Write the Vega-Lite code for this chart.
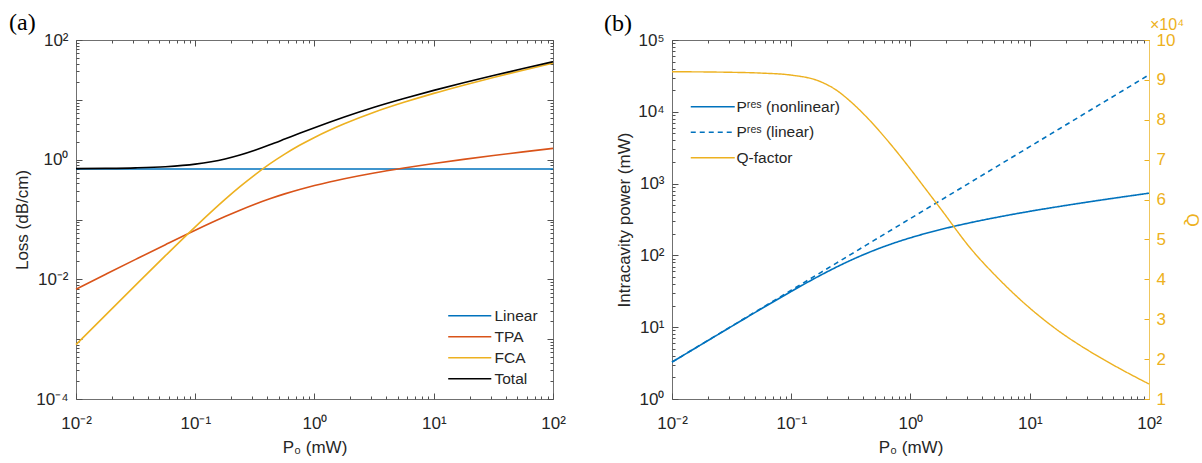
{
  "$schema": "https://vega.github.io/schema/vega-lite/v6.json",
  "background": "white",
  "padding": {"left": 8, "top": 10, "right": 2, "bottom": 2},
  "bounds": "flush",
  "spacing": 119,
  "resolve": {"scale": {"color": "independent", "strokeDash": "independent"}, "legend": {"color": "independent", "strokeDash": "independent"}},
  "config": {
    "font": "Liberation Sans",
    "view": {"stroke": "#707070", "strokeWidth": 1},
    "axis": {"domain": false, "grid": false, "labelFont": "Liberation Sans", "labelFontSize": 17, "labelColor": "#262626", "titleFont": "Liberation Sans", "titleFontSize": 17, "titleFontWeight": "normal", "titleColor": "#262626", "tickColor": "#505050", "labelOverlap": false, "labelFlush": false, "labelBound": false},
    "legend": {"labelFont": "Liberation Sans", "labelFontSize": 15.5, "labelColor": "#262626", "title": null, "padding": 0},
    "title": {"font": "Liberation Serif", "fontSize": 24, "fontWeight": "normal", "color": "#000000", "anchor": "start", "frame": "group"}
  },
  "datasets": {
    "loss": [
      {"P0": 0.01, "Linear": 0.7, "TPA": 0.00685, "FCA": 0.000809, "Total": 0.7077},
      {"P0": 0.01778, "Linear": 0.7, "TPA": 0.01216, "FCA": 0.00255, "Total": 0.7147},
      {"P0": 0.03162, "Linear": 0.7, "TPA": 0.02154, "FCA": 0.0080, "Total": 0.7295},
      {"P0": 0.05623, "Linear": 0.7, "TPA": 0.03797, "FCA": 0.02484, "Total": 0.7628},
      {"P0": 0.1, "Linear": 0.7, "TPA": 0.0662, "FCA": 0.0754, "Total": 0.8416},
      {"P0": 0.1778, "Linear": 0.7, "TPA": 0.1121, "FCA": 0.2165, "Total": 1.0286},
      {"P0": 0.2371, "Linear": 0.7, "TPA": 0.1432, "FCA": 0.3535, "Total": 1.1967},
      {"P0": 0.3162, "Linear": 0.7, "TPA": 0.180, "FCA": 0.558, "Total": 1.438},
      {"P0": 0.4217, "Linear": 0.7, "TPA": 0.222, "FCA": 0.848, "Total": 1.770},
      {"P0": 0.5623, "Linear": 0.7, "TPA": 0.268, "FCA": 1.237, "Total": 2.205},
      {"P0": 0.7499, "Linear": 0.7, "TPA": 0.3175, "FCA": 1.7375, "Total": 2.755},
      {"P0": 1, "Linear": 0.7, "TPA": 0.370, "FCA": 2.354, "Total": 3.424},
      {"P0": 1.334, "Linear": 0.7, "TPA": 0.4242, "FCA": 3.101, "Total": 4.225},
      {"P0": 1.778, "Linear": 0.7, "TPA": 0.4805, "FCA": 3.979, "Total": 5.159},
      {"P0": 3.162, "Linear": 0.7, "TPA": 0.600, "FCA": 6.203, "Total": 7.503},
      {"P0": 5.623, "Linear": 0.7, "TPA": 0.7258, "FCA": 9.077, "Total": 10.503},
      {"P0": 10, "Linear": 0.7, "TPA": 0.8627, "FCA": 12.826, "Total": 14.389},
      {"P0": 17.78, "Linear": 0.7, "TPA": 1.010, "FCA": 17.583, "Total": 19.293},
      {"P0": 31.62, "Linear": 0.7, "TPA": 1.171, "FCA": 23.647, "Total": 25.518},
      {"P0": 56.23, "Linear": 0.7, "TPA": 1.348, "FCA": 31.32, "Total": 33.37},
      {"P0": 100, "Linear": 0.7, "TPA": 1.544, "FCA": 41.06, "Total": 43.30}
    ],
    "pow": [
      {"P0": 0.01, "nl": 3.263, "lin": 3.27, "Q": 9.205},
      {"P0": 0.01778, "nl": 5.792, "lin": 5.814, "Q": 9.2},
      {"P0": 0.03162, "nl": 10.26, "lin": 10.34, "Q": 9.19},
      {"P0": 0.05623, "nl": 18.08, "lin": 18.39, "Q": 9.17},
      {"P0": 0.1, "nl": 31.50, "lin": 32.7, "Q": 9.12},
      {"P0": 0.1778, "nl": 53.37, "lin": 58.14, "Q": 8.95},
      {"P0": 0.2371, "nl": 68.2, "lin": 77.53, "Q": 8.75},
      {"P0": 0.3162, "nl": 85.7, "lin": 103.4, "Q": 8.45},
      {"P0": 0.4217, "nl": 105.6, "lin": 137.9, "Q": 8.09},
      {"P0": 0.5623, "nl": 127.6, "lin": 183.9, "Q": 7.68},
      {"P0": 0.7499, "nl": 151.2, "lin": 245.2, "Q": 7.235},
      {"P0": 1, "nl": 176, "lin": 327, "Q": 6.762},
      {"P0": 1.334, "nl": 202, "lin": 436.2, "Q": 6.271},
      {"P0": 1.778, "nl": 228.8, "lin": 581.4, "Q": 5.781},
      {"P0": 3.162, "nl": 285, "lin": 1034, "Q": 4.79},
      {"P0": 5.623, "nl": 345.6, "lin": 1839, "Q": 3.98},
      {"P0": 10, "nl": 410.8, "lin": 3270, "Q": 3.28},
      {"P0": 17.78, "nl": 481, "lin": 5814, "Q": 2.69},
      {"P0": 31.62, "nl": 557.8, "lin": 10340, "Q": 2.2},
      {"P0": 56.23, "nl": 642, "lin": 18387, "Q": 1.77},
      {"P0": 100, "nl": 735, "lin": 32700, "Q": 1.376}
    ]
  },
  "hconcat": [
    {
      "width": 477,
      "height": 359,
      "title": {"text": "(a)", "dx": -67, "offset": -4},
      "data": {"name": "loss"},
      "transform": [{"fold": ["Linear", "TPA", "FCA", "Total"], "as": ["series", "loss"]}],
      "layer": [
        {
          "mark": {"type": "line", "strokeWidth": 1.6, "interpolate": "monotone"},
          "encoding": {
            "x": {"field": "P0", "type": "quantitative", "scale": {"type": "log", "domain": [0.01, 100], "nice": false},
              "axis": {"orient": "bottom", "title": "P₀ (mW)", "titlePadding": 5,
                "values": [0.01,0.02,0.03,0.04,0.05,0.06,0.07,0.08,0.09,0.1,0.2,0.3,0.4,0.5,0.6,0.7,0.8,0.9,1,2,3,4,5,6,7,8,9,10,20,30,40,50,60,70,80,90,100],
                "labelExpr": "datum.value==0.01?'10⁻²':datum.value==0.1?'10⁻¹':datum.value==1?'10⁰':datum.value==10?'10¹':datum.value==100?'10²':''",
                "tickSize": {"condition": {"test": "indexof([0.01,0.1,1,10,100], datum.value) >= 0", "value": -6}, "value": -3},
                "labelPadding": 22}},
            "y": {"field": "loss", "type": "quantitative", "scale": {"type": "log", "domain": [0.0001, 100], "nice": false},
              "axis": {"orient": "left", "title": "Loss (dB/cm)", "titlePadding": 4,
                "values": [0.0001,0.0002,0.0003,0.0004,0.0005,0.0006,0.0007,0.0008,0.0009,0.001,0.002,0.003,0.004,0.005,0.006,0.007,0.008,0.009,0.01,0.02,0.03,0.04,0.05,0.06,0.07,0.08,0.09,0.1,0.2,0.3,0.4,0.5,0.6,0.7,0.8,0.9,1,2,3,4,5,6,7,8,9,10,20,30,40,50,60,70,80,90,100],
                "labelExpr": "datum.value==0.0001?'10⁻⁴':datum.value==0.01?'10⁻²':datum.value==1?'10⁰':datum.value==100?'10²':''",
                "tickSize": {"condition": {"test": "indexof([0.0001,0.001,0.01,0.1,1,10,100], datum.value) >= 0", "value": -6}, "value": -3},
                "labelPadding": 14}},
            "color": {"field": "series", "type": "nominal",
              "scale": {"domain": ["Linear", "TPA", "FCA", "Total"], "range": ["#0072BD", "#D95319", "#EDB120", "#000000"]},
              "legend": {"orient": "none", "legendX": 386, "legendY": 268, "symbolType": "M-4,0H4", "symbolSize": 116, "symbolStrokeWidth": 1.6, "rowPadding": 4, "labelOffset": 17}}
          }
        },
        {
          "mark": {"type": "line", "opacity": 0},
          "encoding": {
            "x": {"field": "P0", "type": "quantitative", "scale": {"type": "log", "domain": [0.01, 100], "nice": false},
              "axis": {"orient": "top", "title": null, "labels": false,
                "values": [0.01,0.02,0.03,0.04,0.05,0.06,0.07,0.08,0.09,0.1,0.2,0.3,0.4,0.5,0.6,0.7,0.8,0.9,1,2,3,4,5,6,7,8,9,10,20,30,40,50,60,70,80,90,100],
                "tickSize": {"condition": {"test": "indexof([0.01,0.1,1,10,100], datum.value) >= 0", "value": -6}, "value": -3}}},
            "y": {"field": "loss", "type": "quantitative", "scale": {"type": "log", "domain": [0.0001, 100], "nice": false},
              "axis": {"orient": "right", "title": null, "labels": false,
                "values": [0.0001,0.0002,0.0003,0.0004,0.0005,0.0006,0.0007,0.0008,0.0009,0.001,0.002,0.003,0.004,0.005,0.006,0.007,0.008,0.009,0.01,0.02,0.03,0.04,0.05,0.06,0.07,0.08,0.09,0.1,0.2,0.3,0.4,0.5,0.6,0.7,0.8,0.9,1,2,3,4,5,6,7,8,9,10,20,30,40,50,60,70,80,90,100],
                "tickSize": {"condition": {"test": "indexof([0.0001,0.001,0.01,0.1,1,10,100], datum.value) >= 0", "value": -6}, "value": -3}}},
            "detail": {"field": "series", "type": "nominal"}
          }
        }
      ],
      "resolve": {"axis": {"x": "independent", "y": "independent"}}
    },
    {
      "width": 477,
      "height": 359,
      "title": {"text": "(b)", "dx": -68, "offset": -19},
      "layer": [
        {
          "data": {"name": "pow"},
          "transform": [{"fold": ["nl", "lin"], "as": ["series", "val"]}],
          "mark": {"type": "line", "strokeWidth": 1.6, "interpolate": "monotone"},
          "encoding": {
            "x": {"field": "P0", "type": "quantitative", "scale": {"type": "log", "domain": [0.01, 100], "nice": false},
              "axis": {"orient": "bottom", "title": "P₀ (mW)", "titlePadding": 5,
                "values": [0.01,0.02,0.03,0.04,0.05,0.06,0.07,0.08,0.09,0.1,0.2,0.3,0.4,0.5,0.6,0.7,0.8,0.9,1,2,3,4,5,6,7,8,9,10,20,30,40,50,60,70,80,90,100],
                "labelExpr": "datum.value==0.01?'10⁻²':datum.value==0.1?'10⁻¹':datum.value==1?'10⁰':datum.value==10?'10¹':datum.value==100?'10²':''",
                "tickSize": {"condition": {"test": "indexof([0.01,0.1,1,10,100], datum.value) >= 0", "value": -6}, "value": -3},
                "labelPadding": 22}},
            "y": {"field": "val", "type": "quantitative", "scale": {"type": "log", "domain": [1, 100000], "nice": false},
              "axis": {"orient": "left", "title": "Intracavity power (mW)", "titlePadding": 4,
                "values": [1,2,3,4,5,6,7,8,9,10,20,30,40,50,60,70,80,90,100,200,300,400,500,600,700,800,900,1000,2000,3000,4000,5000,6000,7000,8000,9000,10000,20000,30000,40000,50000,60000,70000,80000,90000,100000],
                "labelExpr": "datum.value==1?'10⁰':datum.value==10?'10¹':datum.value==100?'10²':datum.value==1000?'10³':datum.value==10000?'10⁴':datum.value==100000?'10⁵':''",
                "tickSize": {"condition": {"test": "indexof([1,10,100,1000,10000,100000], datum.value) >= 0", "value": -6}, "value": -3},
                "labelPadding": 14}},
            "color": {"field": "series", "type": "nominal",
              "scale": {"domain": ["nl", "lin", "Q"], "range": ["#0072BD", "#0072BD", "#EDB120"]},
              "legend": {"orient": "none", "legendX": 33, "legendY": 59, "symbolType": "M-4,0H4", "symbolSize": 121, "symbolStrokeWidth": 1.6, "rowPadding": 8.5, "labelOffset": 16,
                "labelExpr": "datum.label=='nl'?'Pʳᵉˢ (nonlinear)':datum.label=='lin'?'Pʳᵉˢ (linear)':'Q-factor'"}},
            "strokeDash": {"field": "series", "type": "nominal",
              "scale": {"domain": ["nl", "lin", "Q"], "range": [[1, 0], [5, 4], [1, 0]]},
              "legend": {"orient": "none", "legendX": 33, "legendY": 59, "symbolType": "M-4,0H4", "symbolSize": 121, "symbolStrokeWidth": 1.6, "rowPadding": 8.5, "labelOffset": 16,
                "labelExpr": "datum.label=='nl'?'Pʳᵉˢ (nonlinear)':datum.label=='lin'?'Pʳᵉˢ (linear)':'Q-factor'"}}
          }
        },
        {
          "data": {"name": "pow"},
          "transform": [{"fold": ["Q"], "as": ["series", "val"]}],
          "mark": {"type": "line", "strokeWidth": 1.4, "interpolate": "monotone"},
          "encoding": {
            "x": {"field": "P0", "type": "quantitative", "scale": {"type": "log", "domain": [0.01, 100], "nice": false},
              "axis": {"orient": "top", "title": null, "labels": false,
                "values": [0.01,0.02,0.03,0.04,0.05,0.06,0.07,0.08,0.09,0.1,0.2,0.3,0.4,0.5,0.6,0.7,0.8,0.9,1,2,3,4,5,6,7,8,9,10,20,30,40,50,60,70,80,90,100],
                "tickSize": {"condition": {"test": "indexof([0.01,0.1,1,10,100], datum.value) >= 0", "value": -6}, "value": -3}}},
            "y": {"field": "val", "type": "quantitative", "scale": {"domain": [1, 10], "nice": false},
              "axis": {"orient": "right", "title": "Q", "titleColor": "#EDB120", "titlePadding": 8,
                "values": [1,2,3,4,5,6,7,8,9,10], "tickSize": -5, "tickColor": "#EDB120", "labelColor": "#EDB120",
                "domain": true, "domainColor": "#F0C75E", "labelPadding": 12}},
            "color": {"field": "series", "type": "nominal",
              "scale": {"domain": ["nl", "lin", "Q"], "range": ["#0072BD", "#0072BD", "#EDB120"]},
              "legend": {"orient": "none", "legendX": 33, "legendY": 59, "symbolType": "M-4,0H4", "symbolSize": 121, "symbolStrokeWidth": 1.6, "rowPadding": 8.5, "labelOffset": 16,
                "labelExpr": "datum.label=='nl'?'Pʳᵉˢ (nonlinear)':datum.label=='lin'?'Pʳᵉˢ (linear)':'Q-factor'"}},
            "strokeDash": {"field": "series", "type": "nominal",
              "scale": {"domain": ["nl", "lin", "Q"], "range": [[1, 0], [5, 4], [1, 0]]},
              "legend": {"orient": "none", "legendX": 33, "legendY": 59, "symbolType": "M-4,0H4", "symbolSize": 121, "symbolStrokeWidth": 1.6, "rowPadding": 8.5, "labelOffset": 16,
                "labelExpr": "datum.label=='nl'?'Pʳᵉˢ (nonlinear)':datum.label=='lin'?'Pʳᵉˢ (linear)':'Q-factor'"}}
          }
        },
        {
          "data": {"values": [{"t": "×10⁴"}]},
          "mark": {"type": "text", "align": "left", "baseline": "alphabetic", "dx": 1, "dy": -10, "fontSize": 16, "color": "#EDB120", "font": "Liberation Sans"},
          "encoding": {
            "text": {"field": "t"},
            "x": {"datum": 100, "type": "quantitative", "axis": null},
            "y": {"datum": 10, "type": "quantitative", "scale": {"domain": [1, 10], "nice": false}, "axis": null}
          }
        }
      ],
      "resolve": {"scale": {"y": "independent"}, "axis": {"x": "independent"}}
    }
  ]
}
